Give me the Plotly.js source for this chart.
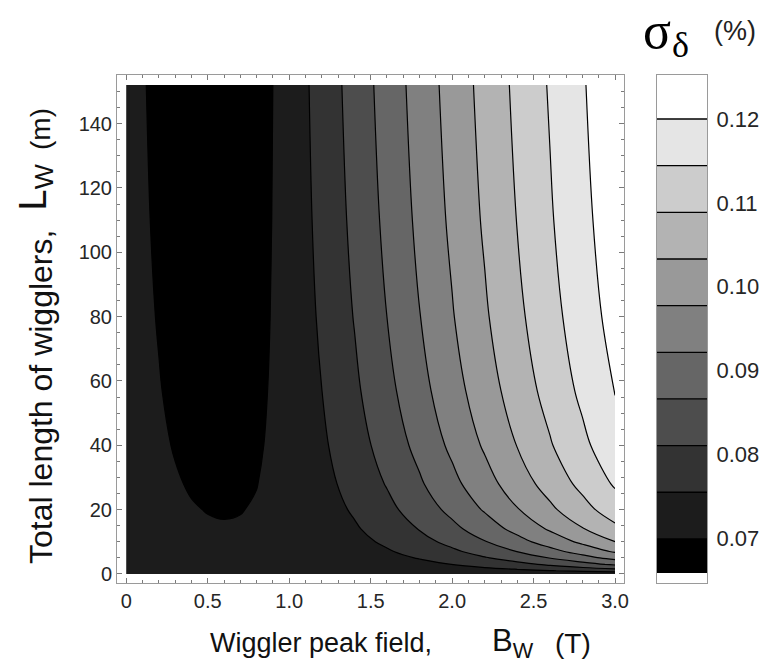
<!DOCTYPE html>
<html>
<head>
<meta charset="utf-8">
<script src="https://cdn.plot.ly/plotly-3.0.1.min.js"></script>
<style>
  html, body { margin: 0; padding: 0; background: #ffffff; }
  #chart { width: 761px; height: 666px; }
</style>
</head>
<body>
<div id="chart"></div>
<script>
// Wiggler peak field B_w (T) – grid columns
const fieldB = [0, 0.1, 0.2, 0.3, 0.4, 0.5, 0.6, 0.7, 0.8, 0.9, 1.0,
                1.2, 1.4, 1.6, 1.8, 2.0, 2.2, 2.4, 2.6, 2.8, 3.0];

// Total length of wigglers L_w (m) – grid rows
const lengthL = [0, 0.5, 1, 2, 3, 5, 7, 10, 14, 20, 28, 40, 57, 80, 110, 152];

// Energy spread sigma_delta (%) on the grid, one row per length
const sigmaDelta = [
  [0.07078,0.07078,0.07078,0.07078,0.07078,0.07078,0.07078,0.07078,0.07078,0.07078,0.07078,0.07078,0.07078,0.07078,0.07078,0.07078,0.07078,0.07078,0.07078,0.07078,0.07078],
  [0.07078,0.07078,0.07077,0.07077,0.07076,0.07076,0.07075,0.07075,0.07076,0.07077,0.07079,0.07086,0.07098,0.07115,0.07138,0.07169,0.07208,0.07256,0.07313,0.07380,0.07458],
  [0.07078,0.07078,0.07077,0.07075,0.07074,0.07073,0.07073,0.07073,0.07074,0.07077,0.07081,0.07094,0.07117,0.07150,0.07196,0.07255,0.07329,0.07419,0.07525,0.07647,0.07785],
  [0.07078,0.07078,0.07075,0.07073,0.07070,0.07068,0.07067,0.07068,0.07070,0.07075,0.07083,0.07110,0.07154,0.07218,0.07304,0.07414,0.07548,0.07707,0.07890,0.08096,0.08324],
  [0.07078,0.07077,0.07074,0.07070,0.07067,0.07064,0.07062,0.07063,0.07066,0.07074,0.07086,0.07125,0.07189,0.07281,0.07403,0.07556,0.07740,0.07953,0.08195,0.08462,0.08751],
  [0.07078,0.07077,0.07071,0.07065,0.07059,0.07054,0.07052,0.07053,0.07059,0.07071,0.07091,0.07154,0.07255,0.07397,0.07579,0.07802,0.08062,0.08355,0.08677,0.09023,0.09388],
  [0.07078,0.07076,0.07069,0.07060,0.07052,0.07045,0.07041,0.07043,0.07052,0.07069,0.07096,0.07182,0.07315,0.07499,0.07731,0.08007,0.08322,0.08670,0.09043,0.09436,0.09843],
  [0.07078,0.07075,0.07065,0.07053,0.07040,0.07031,0.07026,0.07029,0.07041,0.07065,0.07102,0.07219,0.07396,0.07633,0.07923,0.08259,0.08631,0.09032,0.09452,0.09886,0.10326],
  [0.07078,0.07073,0.07060,0.07043,0.07026,0.07012,0.07006,0.07011,0.07028,0.07061,0.07111,0.07264,0.07490,0.07782,0.08129,0.08519,0.08940,0.09383,0.09838,0.10298,0.10759],
  [0.07078,0.07071,0.07052,0.07028,0.07004,0.06986,0.06978,0.06985,0.07010,0.07055,0.07122,0.07323,0.07607,0.07960,0.08365,0.08806,0.09269,0.09744,0.10223,0.10700,0.11171],
  [0.07078,0.07068,0.07042,0.07009,0.06976,0.06951,0.06942,0.06952,0.06987,0.07048,0.07135,0.07388,0.07730,0.08138,0.08592,0.09071,0.09563,0.10058,0.10548,0.11031,0.11504],
  [0.07078,0.07063,0.07026,0.06980,0.06935,0.06902,0.06891,0.06908,0.06956,0.07038,0.07152,0.07465,0.07868,0.08329,0.08823,0.09331,0.09842,0.10347,0.10842,0.11325,0.11794],
  [0.07078,0.07057,0.07005,0.06940,0.06879,0.06837,0.06826,0.06852,0.06920,0.07027,0.07170,0.07546,0.08005,0.08509,0.09032,0.09558,0.10077,0.10585,0.11079,0.11557,0.12020],
  [0.07078,0.07048,0.06977,0.06888,0.06808,0.06756,0.06748,0.06789,0.06879,0.07015,0.07190,0.07624,0.08128,0.08662,0.09204,0.09739,0.10262,0.10768,0.11257,0.11730,0.12186],
  [0.07078,0.07038,0.06940,0.06823,0.06721,0.06662,0.06661,0.06721,0.06838,0.07004,0.07208,0.07693,0.08232,0.08787,0.09339,0.09878,0.10400,0.10903,0.11388,0.11855,0.12306],
  [0.07078,0.07022,0.06890,0.06737,0.06612,0.06548,0.06560,0.06645,0.06794,0.06993,0.07225,0.07756,0.08322,0.08892,0.09450,0.09990,0.10510,0.11009,0.11490,0.11952,0.12398]
];

// Contour levels (ten equally spaced levels from 0.06992 to 0.12)
const contourLevels = [0.06992, 0.07549, 0.08105, 0.08662, 0.09218, 0.09774,
                       0.10331, 0.10887, 0.11444, 0.12000];
// Legend bar extent (below first level and above last level)
const legendBottom = 0.06583;
const legendTop = 0.12525;
const legendAxisMin = 0.06467;

// Gray fill for each band, darkest (below first level) to lightest (above last)
const bandGrays = ['#000000', '#1c1c1c', '#333333', '#4d4d4d', '#666666', '#808080',
                   '#999999', '#b3b3b3', '#cccccc', '#e5e5e5', '#ffffff'];

const xTickVals = [0, 0.5, 1, 1.5, 2, 2.5, 3];
const xTickText = ['0', '0.5', '1.0', '1.5', '2.0', '2.5', '3.0'];
const yTickVals = [0, 20, 40, 60, 80, 100, 120, 140];
const legendTickVals = [0.07, 0.08, 0.09, 0.10, 0.11, 0.12];
const legendTickText = ['0.07', '0.08', '0.09', '0.10', '0.11', '0.12'];

// ---- build traces ----
const grayScale = bandGrays.map((c, i) => [i / (bandGrays.length - 1), c]);
const step = (contourLevels[contourLevels.length - 1] - contourLevels[0]) / (contourLevels.length - 1);

const contourTrace = {
  type: 'contour',
  x: fieldB,
  y: lengthL,
  z: sigmaDelta,
  autocontour: false,
  contours: {
    start: contourLevels[0],
    end: contourLevels[contourLevels.length - 1],
    size: step,
    coloring: 'fill',
    showlines: true
  },
  line: { color: '#000000', width: 1.2, smoothing: 1 },
  colorscale: grayScale,
  showscale: false,
  hoverinfo: 'skip',
  xaxis: 'x',
  yaxis: 'y'
};

// legend bar: one stacked segment per band
const bandEdges = [legendBottom].concat(contourLevels, [legendTop]);
const bandBase = bandEdges.slice(0, -1);
const bandHeight = bandEdges.slice(1).map((v, i) => v - bandEdges[i]);
const legendBars = {
  type: 'bar',
  x: bandBase.map(() => 0),
  y: bandHeight,
  base: bandBase,
  width: 1,
  marker: { color: bandGrays, line: { width: 0 } },
  hoverinfo: 'skip',
  xaxis: 'x2',
  yaxis: 'y2'
};

// contour level lines across the legend bar
const lx = [], ly = [];
contourLevels.forEach(v => { lx.push(-0.5, 0.5, null); ly.push(v, v, null); });
const legendLines = {
  type: 'scatter',
  mode: 'lines',
  x: lx,
  y: ly,
  line: { color: '#000000', width: 1.3 },
  hoverinfo: 'skip',
  xaxis: 'x2',
  yaxis: 'y2'
};

// ---- layout ----
const L = 117, R = 707, T = 75, B = 583;
const px = v => (v - L) / (R - L);
const py = v => (B - v) / (B - T);

const sans = 'Liberation Sans, Arial, sans-serif';
const tickFont = { family: sans, size: 20, color: '#262626' };
const frameColor = '#9a9a9a';
const titleColor = '#111111';

function label(text, xPix, yPix, size, opts) {
  return Object.assign({
    xref: 'paper', yref: 'paper',
    x: px(xPix), y: py(yPix),
    xanchor: 'left', yanchor: 'middle',
    showarrow: false,
    text: text,
    font: { family: sans, size: size, color: titleColor }
  }, opts || {});
}

const layout = {
  width: 761,
  height: 666,
  margin: { l: L, r: 761 - R, t: T, b: 666 - B, pad: 0 },
  paper_bgcolor: '#ffffff',
  plot_bgcolor: '#ffffff',
  showlegend: false,
  bargap: 0,
  xaxis: {
    domain: [0, px(624)],
    range: [-0.057, 3.055],
    tickvals: xTickVals,
    ticktext: xTickText,
    ticks: 'inside',
    ticklen: 5,
    tickwidth: 1,
    tickcolor: '#7a7a7a',
    minor: { dtick: 0.1, tick0: 0, ticks: 'inside', ticklen: 3, tickcolor: '#7a7a7a', tickwidth: 1 },
    showline: true,
    linecolor: frameColor,
    linewidth: 1,
    mirror: 'allticks',
    showgrid: false,
    zeroline: false,
    tickfont: tickFont,
    ticklabelstandoff: 0,
    fixedrange: true
  },
  yaxis: {
    domain: [0, 1],
    range: [-2.8, 155.1],
    tickvals: yTickVals,
    ticks: 'inside',
    ticklen: 5,
    tickwidth: 1,
    tickcolor: '#7a7a7a',
    minor: { dtick: 5, tick0: 0, ticks: 'inside', ticklen: 3, tickcolor: '#7a7a7a', tickwidth: 1 },
    showline: true,
    linecolor: frameColor,
    linewidth: 1,
    mirror: 'allticks',
    showgrid: false,
    zeroline: false,
    tickfont: tickFont,
    ticklabelstandoff: 0,
    fixedrange: true
  },
  xaxis2: {
    domain: [px(656.7), 1],
    range: [-0.5, 0.5],
    anchor: 'y2',
    showline: true,
    linecolor: frameColor,
    linewidth: 1,
    mirror: true,
    showticklabels: false,
    ticks: '',
    showgrid: false,
    zeroline: false,
    fixedrange: true
  },
  yaxis2: {
    domain: [0, 1],
    range: [legendAxisMin, legendTop],
    anchor: 'x2',
    side: 'right',
    tickvals: legendTickVals,
    ticktext: legendTickText,
    ticks: '',
    showline: true,
    linecolor: frameColor,
    linewidth: 1,
    mirror: true,
    showgrid: false,
    zeroline: false,
    tickfont: { family: sans, size: 22, color: '#262626' },
    ticklabelstandoff: 4,
    fixedrange: true
  },
  annotations: [
    // horizontal axis title, in three parts
    label('Wiggler peak field,', 208, 643, 27),
    label('B<sub>W</sub>', 490, 643, 31),
    label('(T)', 553, 643, 28),
    // vertical axis title, in three parts (rotated, reading upwards)
    label('Total length of wigglers,', 41, 566, 32, { xanchor: 'center', yanchor: 'bottom', textangle: -90 }),
    label('L<sub>W</sub>', 36, 213, 38, { xanchor: 'center', yanchor: 'bottom', textangle: -90 }),
    label('(m)', 41, 152, 28, { xanchor: 'center', yanchor: 'bottom', textangle: -90 }),
    // legend heading
    label('σ', 657, 31, 52, { xanchor: 'center', font: { family: 'Liberation Serif, serif', size: 52, color: '#000000' } }),
    label('δ', 680, 45, 36, { xanchor: 'center', font: { family: 'Liberation Serif, serif', size: 36, color: '#000000' } }),
    label('(%)', 735, 31, 27, { xanchor: 'center', font: { family: sans, size: 27, color: '#222222' } })
  ]
};

Plotly.newPlot('chart', [contourTrace, legendBars, legendLines], layout,
  { displayModeBar: false, staticPlot: true });
</script>
</body>
</html>
